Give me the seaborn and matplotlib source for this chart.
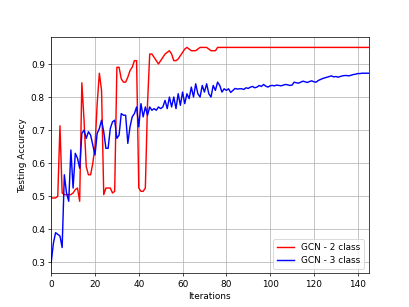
import numpy as np
import pandas as pd
import seaborn as sns
import matplotlib
matplotlib.use("Agg")
import matplotlib.pyplot as plt

# Testing accuracy per iteration
acc_2class = [
    0.495, 0.495, 0.495, 0.50, 0.713, 0.51, 0.505, 0.505, 0.505, 0.505,
    0.51, 0.52, 0.525, 0.485, 0.843, 0.73, 0.59, 0.565, 0.565, 0.60,
    0.65, 0.78, 0.872, 0.82, 0.505, 0.525, 0.525, 0.525, 0.51, 0.515,
    0.89, 0.89, 0.855, 0.845, 0.845, 0.86, 0.88, 0.89, 0.91, 0.91,
    0.525, 0.515, 0.515, 0.525, 0.78, 0.93, 0.93, 0.92, 0.91, 0.90,
    0.91, 0.92, 0.93, 0.935, 0.94, 0.93, 0.91, 0.91, 0.915, 0.925,
    0.935, 0.945, 0.95, 0.945, 0.94, 0.94, 0.94, 0.945, 0.95, 0.95,
    0.95, 0.95, 0.945, 0.94, 0.94, 0.94, 0.95,
] + [0.95] * 69

acc_3class = [
    0.30, 0.358, 0.39, 0.385, 0.38, 0.345, 0.565, 0.51, 0.485, 0.64,
    0.525, 0.63, 0.615, 0.585, 0.69, 0.70, 0.675, 0.695, 0.685, 0.655,
    0.625, 0.69, 0.705, 0.73, 0.695, 0.645, 0.645, 0.705, 0.725, 0.73,
    0.675, 0.685, 0.75, 0.745, 0.745, 0.66, 0.71, 0.74, 0.75, 0.77,
    0.71, 0.78, 0.74, 0.77, 0.745, 0.77, 0.76, 0.765, 0.76, 0.77,
    0.765, 0.77, 0.79, 0.765, 0.80, 0.77, 0.80, 0.765, 0.81, 0.775,
    0.815, 0.78, 0.81, 0.795, 0.83, 0.80, 0.84, 0.81, 0.80, 0.835,
    0.815, 0.84, 0.81, 0.80, 0.835, 0.82, 0.845, 0.835, 0.815, 0.825,
    0.82, 0.825, 0.814, 0.82, 0.826, 0.824, 0.825, 0.825, 0.823, 0.828,
    0.826, 0.83, 0.832, 0.828, 0.83, 0.835, 0.832, 0.838, 0.833, 0.83,
    0.834, 0.835, 0.834, 0.836, 0.835, 0.834, 0.836, 0.838, 0.837, 0.835,
    0.836, 0.845, 0.843, 0.842, 0.845, 0.848, 0.846, 0.844, 0.847, 0.849,
    0.846, 0.845, 0.85, 0.853, 0.856, 0.858, 0.86, 0.862, 0.864, 0.861,
    0.862, 0.86, 0.862, 0.864, 0.865, 0.865, 0.864, 0.866, 0.868, 0.869,
    0.871, 0.871, 0.872, 0.872, 0.872, 0.872,
]

iterations = np.arange(len(acc_3class))

df = pd.DataFrame({
    'iteration': iterations,
    'GCN - 2 class': acc_2class,
    'GCN - 3 class': acc_3class,
})

fig, ax = plt.subplots(figsize=(6.4, 4.8), dpi=64)
sns.lineplot(data=df, x='iteration', y='GCN - 2 class', color='red', linewidth=1.6, label='GCN - 2 class', ax=ax)
sns.lineplot(data=df, x='iteration', y='GCN - 3 class', color='blue', linewidth=1.6, label='GCN - 3 class', ax=ax)

ax.set_xlim(0, 145)
ax.set_xticks(range(0, 141, 20))
ax.set_yticks(np.arange(0.3, 0.95, 0.1))
ax.grid(True)
ax.set_xlabel('Iterations')
ax.set_ylabel('Testing Accuracy')
ax.legend(loc='lower right')

fig.savefig('out.png', dpi=64)
